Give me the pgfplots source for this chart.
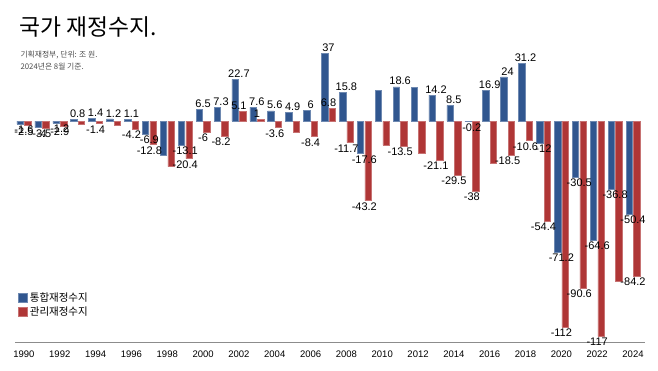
\documentclass[border=0pt]{standalone}
\usepackage{pgfplots}
\usepackage{pgfplotstable}
\pgfplotsset{compat=1.18}
\usepackage{fontspec}
\setmainfont{Liberation Sans}
\newfontfamily\kr{Noto Sans CJK KR}
\definecolor{cB}{HTML}{30568F}
\definecolor{cR}{HTML}{AF3636}
\pgfplotstableread{
yr b bl r rl
1990 -1.6 -1.6 -2.5 -2.5
1991 -3.5 -3.5 -4 -4
1992 -1.2 -1.2 -2.9 -2.9
1993 0.8 0.8 -1.7 {}
1994 1.4 1.4 -1.4 -1.4
1995 1.2 1.2 -2.2 {}
1996 1.1 1.1 -4.2 -4.2
1997 -6.9 -6.9 -12.8 -12.8
1998 -18.7 {} -24.8 {}
1999 -13.1 -13.1 -20.4 -20.4
2000 6.5 6.5 -6 -6
2001 7.3 7.3 -8.2 -8.2
2002 22.7 22.7 5.1 5.1
2003 7.6 7.6 1 1
2004 5.6 5.6 -3.6 -3.6
2005 4.9 4.9 -6.2 {}
2006 6 6 -8.4 -8.4
2007 37 37 6.8 6.8
2008 15.8 15.8 -11.7 -11.7
2009 -17.6 -17.6 -43.2 -43.2
2010 16.7 {} -13.0 {}
2011 18.6 18.6 -13.5 -13.5
2012 18.5 {} -17.4 {}
2013 14.2 14.2 -21.1 -21.1
2014 8.5 8.5 -29.5 -29.5
2015 -0.2 -0.2 -38 -38
2016 16.9 16.9 -22.7 {}
2017 24 24 -18.5 -18.5
2018 31.2 31.2 -10.6 -10.6
2019 -12 -12 -54.4 -54.4
2020 -71.2 -71.2 -112 -112
2021 -30.5 -30.5 -90.6 -90.6
2022 -64.6 -64.6 -117 -117
2023 -36.8 -36.8 -87 {}
2024 -50.4 -50.4 -84.2 -84.2
}\data
\begin{document}
\begin{tikzpicture}
\path[use as bounding box] (0,0) rectangle (658pt,-370pt);
\node[anchor=base west, font=\kr\fontsize{22.8}{26}\selectfont] at (16pt,-35pt) {국가 재정수지.};
\node[anchor=base west, font=\kr\fontsize{7.8}{9}\selectfont, text=black!70] at (17pt,-57pt) {기획재정부, 단위: 조 원.};
\node[anchor=base west, font=\kr\fontsize{7.8}{9}\selectfont, text=black!70] at (17pt,-69.5pt) {2024년은 8월 기준.};
\begin{axis}[
  at={(15pt,-342pt)}, anchor=south west,
  scale only axis, width=630pt, height=301.8pt,
  xmin=1989.5, xmax=2024.67, ymin=-120.1, ymax=44,
  axis x line*=bottom, axis y line=none,
  x axis line style={draw=black!45, line width=0.8pt, -},
  xtick={1990,1992,...,2024},
  xtick style={draw=none},
  xticklabel style={font=\fontsize{9.5}{11}\selectfont, yshift=-5pt, /pgf/number format/1000 sep={}},
  /pgf/number format/assume math mode=true,
  ytick=\empty,
  clip=false,
  bar width=6.4pt,
  nodes near coords={\pgfplotspointmeta},
  point meta=explicit symbolic,
  visualization depends on={rawy \as \rawy},
  every node near coord/.append style={font=\fontsize{11}{12}\selectfont, inner sep=1.6pt,
     /utils/exec={\ifdim\rawy pt<0pt \def\myanc{north}\else\def\myanc{south}\fi}, anchor=\myanc},
  legend style={draw=none, fill=none, at={(axis description cs:0.005,0.172)}, anchor=north west,
     font=\kr\fontsize{10.5}{12}\selectfont, row sep=0.5pt, inner sep=0pt},
  legend cell align=left,
  legend image code/.code={\draw[#1] (0pt,-4.5pt) rectangle (9pt,4.5pt);},
]
\addplot[ybar, bar shift=-3.8pt, fill=cB, draw=cB!70!white, line width=0.5pt] table[x=yr, y=b, meta=bl] {\data};
\addlegendentry{통합재정수지}
\addplot[ybar, bar shift=3.8pt, fill=cR, draw=cR!70!white, line width=0.5pt] table[x=yr, y=r, meta=rl] {\data};
\addlegendentry{관리재정수지}
\end{axis}
\end{tikzpicture}
\end{document}
